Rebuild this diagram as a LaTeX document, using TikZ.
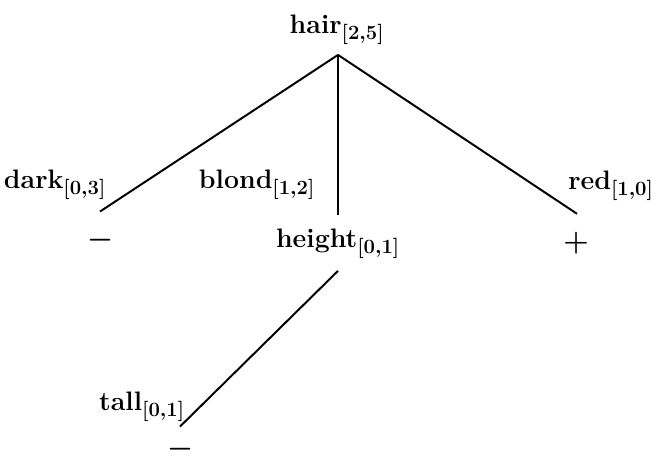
\documentclass[tikz,border=0pt]{standalone}
\usepackage{amsmath,amssymb}
\usepackage{tikz}
\usetikzlibrary{calc}

\begin{document}
\begin{tikzpicture}[
    x=0.025cm, y=-0.025cm,
    tnode/.style={inner sep=0pt, anchor=base, font=\fontsize{19}{22}\selectfont\bfseries\boldmath},
    sign/.style={inner sep=0pt, font=\fontsize{22}{24}\selectfont\boldmath},
    branch/.style={line width=1.4pt, color=black}
]
\useasboundingbox (0,0) rectangle (656,460);

% tree nodes
\node[tnode] (hair) at (337,33) {hair$_{[2,5]}$};
\node[sign] (dark_leaf) at (101,240) {$-$};
\node[tnode] (height) at (338,247) {height$_{[0,1]}$};
\node[sign] (red_leaf) at (576,243) {$+$};
\node[sign] (tall_leaf) at (181,449) {$-$};

% branch labels
\node[tnode] (dark_lbl) at (55,188) {dark$_{[0,3]}$};
\node[tnode] (blond_lbl) at (257,188) {blond$_{[1,2]}$};
\node[tnode] (red_lbl) at (611,189) {red$_{[1,0]}$};
\node[tnode] (tall_lbl) at (142,410) {tall$_{[0,1]}$};

\draw[branch] ($(hair.south)+(1,10)$) -- ($(dark_leaf.north)+(-1,-17)$);
\draw[branch] ($(hair.south)+(1,10)$) -- ($(height.north)+(0,-13)$);
\draw[branch] ($(hair.south)+(1,10)$) -- ($(red_leaf.north)+(1,-18)$);
\draw[branch] ($(height.south)+(0,12)$) -- ($(tall_leaf.north)+(-1,-11)$);

\end{tikzpicture}
\end{document}
